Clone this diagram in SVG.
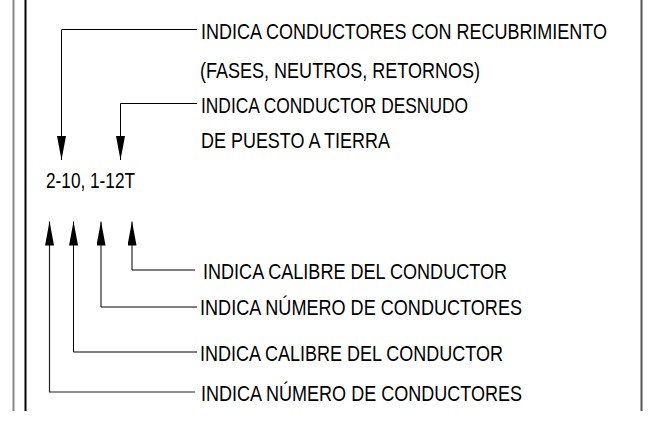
<svg xmlns="http://www.w3.org/2000/svg" width="655" height="421" viewBox="0 0 655 421">
<defs>
<style>
.t{font-family:"Liberation Sans",Arial,sans-serif;font-size:22.5px;fill:#000}
.ln{fill:none;stroke:#000;stroke-width:1}
.lg{fill:none;stroke:#222;stroke-width:1.2}
.bd{fill:none;stroke-width:2}
</style>
<marker id="ah" viewBox="0 0 24 9" refX="24" refY="4.5" markerWidth="24" markerHeight="9" markerUnits="userSpaceOnUse" orient="auto">
<path d="M0,0 L24,4.5 L0,9 Z" fill="#000"/>
</marker>
</defs>
<rect width="655" height="421" fill="#fff"/>
<g id="frame">
<line x1="13.5" y1="0" x2="13.5" y2="411" class="bd" stroke="#888"/>
<line x1="25.5" y1="0" x2="25.5" y2="411" class="bd" stroke="#000" stroke-width="1.5"/>
<line x1="641.5" y1="0" x2="641.5" y2="411" class="bd" stroke="#555"/>
</g>
<g id="connectors">
<path class="ln" d="M197,29.5 H61.5 V160" marker-end="url(#ah)"/>
<path class="ln" d="M197,103.5 H120.5 V160" marker-end="url(#ah)"/>
<path class="ln" d="M195,270 H132 V221.5" marker-end="url(#ah)"/>
<path class="ln" d="M197,307 H101 V221.5" marker-end="url(#ah)"/>
<path class="ln" d="M197,352 H73.5 V221.5" marker-end="url(#ah)"/>
<path class="lg" d="M195,392 H49.5 V221.5" marker-end="url(#ah)"/>
</g>
<g id="code"><text class="t" transform="translate(46,187.5) scale(0.79,1)" textLength="112.7" lengthAdjust="spacingAndGlyphs">2-10, 1-12T</text></g>
<g id="label-recubrimiento"><text class="t" transform="translate(201,38.8) scale(0.79,1)" textLength="513.9" lengthAdjust="spacingAndGlyphs">INDICA CONDUCTORES CON RECUBRIMIENTO</text>
<text class="t" transform="translate(200,77.8) scale(0.79,1)" textLength="354.4" lengthAdjust="spacingAndGlyphs">(FASES, NEUTROS, RETORNOS)</text></g>
<g id="label-desnudo"><text class="t" transform="translate(201,112.8) scale(0.79,1)" textLength="338" lengthAdjust="spacingAndGlyphs">INDICA CONDUCTOR DESNUDO</text>
<text class="t" transform="translate(201,147.8) scale(0.79,1)" textLength="239.2" lengthAdjust="spacingAndGlyphs">DE PUESTO A TIERRA</text></g>
<g id="label-calibre-2"><text class="t" transform="translate(203,279) scale(0.79,1)" textLength="384.8" lengthAdjust="spacingAndGlyphs">INDICA CALIBRE DEL CONDUCTOR</text></g>
<g id="label-numero-2"><text class="t" transform="translate(200,315) scale(0.79,1)" textLength="407.6" lengthAdjust="spacingAndGlyphs">INDICA NÚMERO DE CONDUCTORES</text></g>
<g id="label-calibre-1"><text class="t" transform="translate(200,360.5) scale(0.79,1)" textLength="383.5" lengthAdjust="spacingAndGlyphs">INDICA CALIBRE DEL CONDUCTOR</text></g>
<g id="label-numero-1"><text class="t" transform="translate(201,400.5) scale(0.79,1)" textLength="406.3" lengthAdjust="spacingAndGlyphs">INDICA NÚMERO DE CONDUCTORES</text></g>
</svg>
